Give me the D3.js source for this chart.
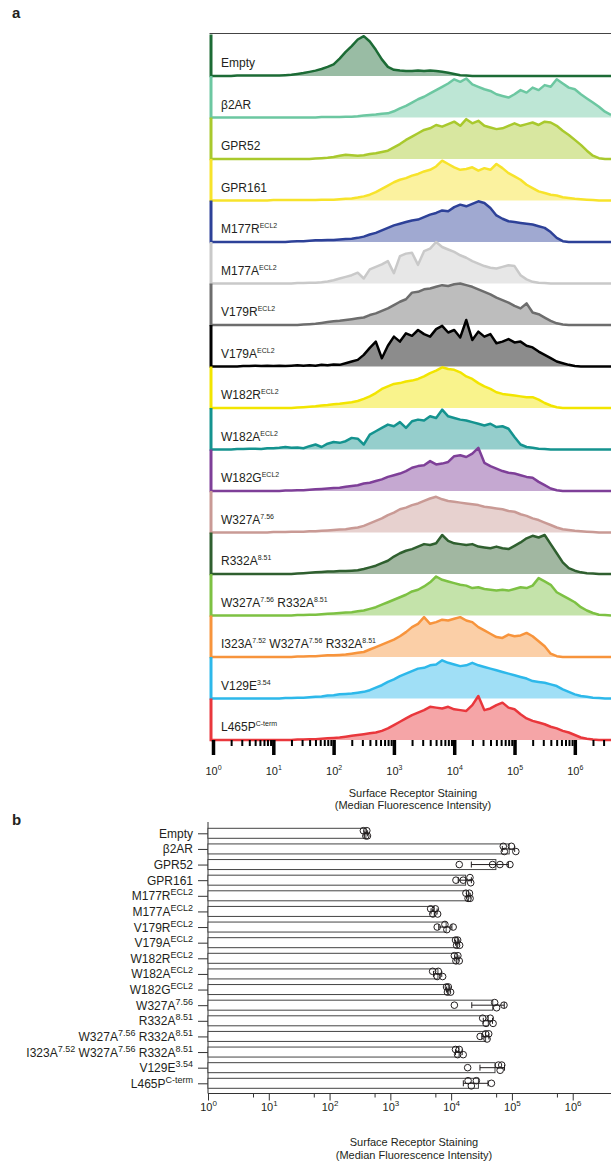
<!DOCTYPE html>
<html>
<head>
<meta charset="utf-8">
<script src="https://cdn.jsdelivr.net/npm/d3@7"></script>
<style>
  body { margin: 0; background: #fff; }
  svg { display: block; font-family: Arial, "Liberation Sans", Helvetica, sans-serif; }
  text { white-space: pre; }
</style>
</head>
<body>
<svg width="611" height="1165"></svg>
<script>
// ---- data ----
const constructs = ['Empty', 'β2AR', 'GPR52', 'GPR161', 'M177R', 'M177A', 'V179R', 'V179A', 'W182R',
    'W182A', 'W182G', 'W327A', 'R332A', 'W327A R332A', 'I323A W327A R332A', 'V129E', 'L465P'];

// label text split into [base, superscript] pieces
const labelParts = [
    [['Empty', '']],
    [['β2AR', '']],
    [['GPR52', '']],
    [['GPR161', '']],
    [['M177R', 'ECL2']],
    [['M177A', 'ECL2']],
    [['V179R', 'ECL2']],
    [['V179A', 'ECL2']],
    [['W182R', 'ECL2']],
    [['W182A', 'ECL2']],
    [['W182G', 'ECL2']],
    [['W327A', '7.56']],
    [['R332A', '8.51']],
    [['W327A', '7.56'], [' R332A', '8.51']],
    [['I323A', '7.52'], [' W327A', '7.56'], [' R332A', '8.51']],
    [['V129E', '3.54']],
    [['L465P', 'C-term']],
];

const lineColours = ['#1c6b35', '#6cc7a1', '#a9c92d', '#f7e32b', '#2d4198', '#c9c9c9', '#6d6d6d', '#000000',
    '#f2e500', '#14938f', '#7e3f98', '#c99a95', '#2f5f2f', '#7dc143', '#f7943c', '#2db8ea', '#e9373c'];

// histogram bins, log10 of intensity
const binLog10 = [
    0, 0.1, 0.2, 0.3, 0.4, 0.5, 0.6, 0.7, 0.8, 0.9,
    1, 1.1, 1.2, 1.3, 1.4, 1.5, 1.6, 1.7, 1.8, 1.9,
    2, 2.1, 2.2, 2.3, 2.4, 2.5, 2.6, 2.7, 2.8, 2.9,
    3, 3.1, 3.2, 3.3, 3.4, 3.5, 3.6, 3.7, 3.8, 3.9,
    4, 4.1, 4.2, 4.3, 4.4, 4.5, 4.6, 4.7, 4.8, 4.9,
    5, 5.1, 5.2, 5.3, 5.4, 5.5, 5.6, 5.7, 5.8, 5.9,
    6, 6.1, 6.2, 6.3, 6.4, 6.5, 6.6];

// normalised counts per bin (1 = full row height)
const histEmpty = [0, 0, 0, 0, 0.01, 0.01, 0.01, 0.01, 0.01, 0.01,
    0.01, 0.01, 0.02, 0.03, 0.05, 0.07, 0.1, 0.13, 0.17, 0.22,
    0.28, 0.42, 0.58, 0.72, 0.88, 0.96, 0.83, 0.63, 0.4, 0.22,
    0.15, 0.13, 0.12, 0.12, 0.13, 0.12, 0.13, 0.12, 0.1, 0.08,
    0.05, 0.02, 0.01, 0, 0, 0, 0, 0, 0, 0,
    0, 0, 0, 0, 0, 0, 0, 0, 0, 0,
    0, 0, 0, 0, 0, 0, 0];
const histB2AR = [0, 0, 0, 0, 0, 0, 0, 0, 0, 0,
    0, 0, 0, 0, 0, 0, 0, 0, 0.01, 0.01,
    0.01, 0.01, 0.02, 0.02, 0.03, 0.05, 0.06, 0.07, 0.09, 0.1,
    0.15, 0.22, 0.28, 0.36, 0.44, 0.5, 0.58, 0.66, 0.74, 0.82,
    0.92, 0.86, 0.94, 0.8, 0.74, 0.68, 0.64, 0.56, 0.52, 0.48,
    0.56, 0.66, 0.6, 0.72, 0.66, 0.78, 0.74, 0.92, 0.82, 0.72,
    0.68, 0.56, 0.46, 0.36, 0.26, 0.14, 0.06];
const histGPR52 = [0, 0, 0, 0, 0, 0, 0, 0, 0, 0,
    0, 0, 0, 0, 0, 0, 0, 0.01, 0.02, 0.03,
    0.05, 0.08, 0.1, 0.09, 0.08, 0.09, 0.12, 0.14, 0.17, 0.2,
    0.28, 0.36, 0.46, 0.54, 0.62, 0.7, 0.74, 0.82, 0.78, 0.84,
    0.9, 0.8, 0.96, 0.86, 0.92, 0.8, 0.76, 0.72, 0.74, 0.8,
    0.86, 0.8, 0.84, 0.88, 0.82, 0.9, 0.88, 0.8, 0.68, 0.58,
    0.46, 0.34, 0.2, 0.08, 0.02, 0, 0];
const histGPR161 = [0, 0, 0, 0, 0, 0, 0, 0, 0, 0,
    0.01, 0.01, 0.01, 0.01, 0.01, 0.01, 0.01, 0.01, 0.02, 0.02,
    0.02, 0.03, 0.04, 0.05, 0.07, 0.1, 0.14, 0.2, 0.28, 0.36,
    0.44, 0.5, 0.54, 0.6, 0.64, 0.7, 0.74, 0.82, 0.96, 0.88,
    0.8, 0.74, 0.76, 0.8, 0.72, 0.78, 0.74, 0.88, 0.78, 0.66,
    0.58, 0.5, 0.38, 0.3, 0.22, 0.18, 0.14, 0.12, 0.08, 0.06,
    0.04, 0.03, 0.02, 0.01, 0, 0, 0];
const histM177R = [0, 0, 0, 0, 0, 0, 0, 0, 0, 0,
    0, 0, 0, 0.01, 0.02, 0.02, 0.03, 0.04, 0.04, 0.05,
    0.05, 0.06, 0.07, 0.08, 0.1, 0.13, 0.18, 0.22, 0.28, 0.34,
    0.4, 0.44, 0.48, 0.52, 0.54, 0.6, 0.66, 0.7, 0.76, 0.74,
    0.84, 0.9, 0.86, 0.92, 0.98, 0.94, 0.82, 0.64, 0.56, 0.5,
    0.48, 0.46, 0.44, 0.42, 0.38, 0.34, 0.24, 0.1, 0.02, 0,
    0, 0, 0, 0, 0, 0, 0];
const histM177A = [0, 0, 0, 0, 0, 0, 0, 0, 0, 0,
    0, 0, 0, 0, 0.01, 0.01, 0.02, 0.02, 0.03, 0.05,
    0.08, 0.12, 0.16, 0.2, 0.26, 0.12, 0.34, 0.4, 0.46, 0.54,
    0.25, 0.66, 0.72, 0.74, 0.45, 0.78, 0.84, 1.0, 0.88, 0.82,
    0.76, 0.68, 0.62, 0.54, 0.48, 0.42, 0.38, 0.36, 0.4, 0.44,
    0.42, 0.2, 0.1, 0.04, 0.02, 0.01, 0, 0, 0, 0,
    0, 0, 0, 0, 0, 0, 0];
const histV179R = [0, 0, 0, 0, 0, 0, 0, 0, 0, 0,
    0, 0, 0, 0, 0, 0.01, 0.02, 0.03, 0.05, 0.07,
    0.09, 0.1, 0.12, 0.14, 0.16, 0.18, 0.24, 0.28, 0.34, 0.4,
    0.48, 0.56, 0.62, 0.78, 0.8, 0.86, 0.88, 0.92, 0.96, 0.94,
    0.98, 1.0, 0.96, 0.92, 0.86, 0.8, 0.74, 0.66, 0.6, 0.54,
    0.46, 0.4, 0.52, 0.3, 0.26, 0.18, 0.1, 0.04, 0.01, 0,
    0, 0, 0, 0, 0, 0, 0];
const histV179A = [0, 0, 0, 0, 0, 0.01, 0.01, 0.02, 0.01, 0.02,
    0.01, 0.02, 0.01, 0.02, 0.03, 0.02, 0.03, 0.02, 0.04, 0.03,
    0.05, 0.04, 0.08, 0.12, 0.16, 0.28, 0.45, 0.6, 0.2, 0.5,
    0.72, 0.6, 0.8, 0.74, 0.88, 0.78, 0.72, 0.9, 0.98, 0.82,
    0.88, 0.7, 1.12, 0.64, 0.84, 0.72, 0.78, 0.56, 0.6, 0.66,
    0.58, 0.6, 0.5, 0.46, 0.36, 0.28, 0.2, 0.12, 0.08, 0.04,
    0.01, 0, 0, 0, 0, 0, 0];
const histW182R = [0, 0, 0, 0, 0, 0, 0, 0, 0, 0,
    0, 0, 0, 0, 0.01, 0.02, 0.03, 0.04, 0.06, 0.07,
    0.09, 0.1, 0.12, 0.14, 0.17, 0.22, 0.28, 0.36, 0.46, 0.52,
    0.58, 0.6, 0.64, 0.66, 0.7, 0.76, 0.84, 0.9, 0.98, 0.94,
    0.92, 0.86, 0.76, 0.7, 0.6, 0.52, 0.46, 0.38, 0.34, 0.32,
    0.3, 0.28, 0.26, 0.26, 0.2, 0.12, 0.06, 0.02, 0, 0,
    0, 0, 0, 0, 0, 0, 0];
const histW182A = [0, 0, 0, 0, 0.01, 0.01, 0.02, 0.02, 0.01, 0.03,
    0.03, 0.04, 0.06, 0.04, 0.05, 0.03, 0.08, 0.12, 0.06, 0.14,
    0.18, 0.16, 0.2, 0.28, 0.26, 0.12, 0.36, 0.44, 0.52, 0.6,
    0.56, 0.66, 0.52, 0.68, 0.72, 0.7, 0.8, 0.76, 0.96, 0.8,
    0.76, 0.72, 0.7, 0.66, 0.62, 0.58, 0.62, 0.54, 0.56, 0.5,
    0.3, 0.12, 0.06, 0.04, 0.02, 0.01, 0, 0, 0, 0,
    0, 0, 0, 0, 0, 0, 0];
const histW182G = [0, 0, 0, 0, 0, 0, 0, 0, 0, 0,
    0, 0, 0.01, 0.01, 0.02, 0.02, 0.03, 0.04, 0.05, 0.06,
    0.07, 0.08, 0.1, 0.12, 0.14, 0.18, 0.2, 0.24, 0.28, 0.34,
    0.38, 0.42, 0.48, 0.56, 0.6, 0.62, 0.72, 0.64, 0.66, 0.7,
    0.84, 0.86, 0.82, 0.9, 1.04, 0.68, 0.6, 0.54, 0.48, 0.44,
    0.42, 0.38, 0.34, 0.32, 0.22, 0.14, 0.06, 0.02, 0, 0,
    0, 0, 0, 0, 0, 0, 0];
const histW327A = [0, 0, 0, 0, 0, 0, 0, 0, 0, 0,
    0.01, 0.01, 0.01, 0.02, 0.02, 0.02, 0.03, 0.03, 0.04, 0.05,
    0.06, 0.07, 0.08, 0.1, 0.12, 0.16, 0.22, 0.28, 0.34, 0.42,
    0.48, 0.56, 0.6, 0.66, 0.7, 0.76, 0.82, 0.86, 0.8, 0.76,
    0.74, 0.72, 0.7, 0.68, 0.66, 0.62, 0.6, 0.58, 0.56, 0.52,
    0.5, 0.44, 0.4, 0.34, 0.3, 0.24, 0.18, 0.12, 0.08, 0.06,
    0.04, 0.03, 0.02, 0.01, 0, 0, 0];
const histR332A = [0, 0, 0, 0, 0, 0, 0, 0, 0, 0,
    0, 0, 0, 0, 0.01, 0.02, 0.03, 0.04, 0.05, 0.06,
    0.06, 0.07, 0.07, 0.08, 0.09, 0.12, 0.16, 0.2, 0.26, 0.32,
    0.42, 0.5, 0.56, 0.6, 0.66, 0.72, 0.7, 0.74, 0.94, 0.8,
    0.74, 0.72, 0.7, 0.72, 0.66, 0.64, 0.62, 0.66, 0.62, 0.6,
    0.68, 0.76, 0.86, 0.92, 0.88, 0.94, 0.72, 0.5, 0.28, 0.14,
    0.08, 0.04, 0.02, 0.01, 0, 0, 0];
const histW327AR332A = [0, 0, 0, 0, 0, 0, 0, 0, 0, 0,
    0, 0, 0, 0, 0.01, 0.01, 0.02, 0.02, 0.03, 0.04,
    0.05, 0.06, 0.07, 0.08, 0.1, 0.12, 0.16, 0.2, 0.26, 0.32,
    0.38, 0.44, 0.5, 0.58, 0.62, 0.7, 0.8, 0.94, 0.86, 0.82,
    0.78, 0.74, 0.72, 0.66, 0.68, 0.64, 0.62, 0.6, 0.62, 0.6,
    0.64, 0.68, 0.66, 0.72, 0.9, 0.82, 0.74, 0.56, 0.48, 0.4,
    0.32, 0.2, 0.12, 0.06, 0.02, 0.01, 0];
const histI323A = [0, 0, 0, 0, 0, 0, 0, 0, 0, 0,
    0, 0, 0, 0, 0.01, 0.01, 0.02, 0.02, 0.03, 0.04,
    0.04, 0.05, 0.06, 0.08, 0.1, 0.12, 0.18, 0.24, 0.3, 0.36,
    0.42, 0.5, 0.6, 0.72, 0.8, 0.96, 0.8, 0.84, 0.9, 0.88,
    0.92, 0.96, 0.88, 0.84, 0.72, 0.64, 0.56, 0.48, 0.46, 0.54,
    0.5, 0.52, 0.58, 0.5, 0.38, 0.26, 0.08, 0.02, 0, 0,
    0, 0, 0, 0, 0, 0, 0];
const histV129E = [0, 0, 0, 0, 0, 0, 0, 0, 0, 0,
    0, 0, 0.01, 0.01, 0.02, 0.02, 0.03, 0.04, 0.05, 0.07,
    0.08, 0.1, 0.11, 0.12, 0.14, 0.16, 0.2, 0.26, 0.32, 0.4,
    0.46, 0.54, 0.6, 0.66, 0.72, 0.74, 0.8, 0.82, 0.92, 0.86,
    0.82, 0.78, 0.8, 0.86, 0.8, 0.76, 0.72, 0.68, 0.64, 0.6,
    0.56, 0.52, 0.48, 0.42, 0.4, 0.38, 0.34, 0.3, 0.22, 0.16,
    0.1, 0.06, 0.04, 0.02, 0.01, 0, 0];
const histL465P = [0, 0, 0, 0, 0, 0, 0, 0, 0, 0,
    0, 0, 0, 0, 0.01, 0.01, 0.02, 0.02, 0.03, 0.04,
    0.05, 0.06, 0.08, 0.1, 0.12, 0.14, 0.16, 0.18, 0.22, 0.28,
    0.36, 0.44, 0.52, 0.6, 0.66, 0.72, 0.8, 0.78, 0.76, 0.8,
    0.74, 0.72, 0.7, 0.84, 1.06, 0.72, 0.76, 0.84, 0.9, 0.78,
    0.74, 0.62, 0.52, 0.46, 0.42, 0.38, 0.32, 0.28, 0.22, 0.18,
    0.12, 0.06, 0.03, 0.01, 0, 0, 0];

const histograms = [histEmpty, histB2AR, histGPR52, histGPR161, histM177R, histM177A, histV179R, histV179A,
    histW182R, histW182A, histW182G, histW327A, histR332A, histW327AR332A, histI323A, histV129E, histL465P];

// median fluorescence intensity, four replicates per construct
const replicates = [
    [360, 395, 410, 420],
    [72000, 75000, 98000, 116000],
    [13600, 48000, 63500, 92700],
    [12000, 15800, 20400, 21000],
    [17500, 19000, 20000, 20500],
    [4600, 5000, 5500, 6000],
    [5900, 7900, 8500, 10800],
    [11800, 12300, 12800, 13800],
    [11300, 12000, 12900, 13600],
    [4960, 5900, 6150, 7250],
    [8400, 8700, 9000, 9800],
    [11300, 52000, 56000, 74000],
    [33000, 37500, 44000, 49000],
    [30000, 37000, 39000, 41500],
    [11800, 12800, 13600, 15800],
    [18700, 60000, 64000, 68000],
    [19000, 21500, 26000, 46000],
];

const decadeTicks = [1, 10, 100, 1e3, 1e4, 1e5, 1e6];
const tickExponents = ['0', '1', '2', '3', '4', '5', '6'];
const minorMultipliers = [2, 3, 4, 5, 6, 7, 8, 9];
const minorTicksB = [5.5, 55, 550, 5500, 55000, 550000];
const axisTitle = ['Surface Receptor Staining', '(Median Fluorescence Intensity)'];

// ---- drawing ----
const svg = d3.select('svg');
const INK = '#231f20';
const ROW_H = 41.5;

// writes base text + raised superscripts into a <text>
const writeLabel = (text, parts, supSize, raise) => {
    let raised = false;
    parts.forEach(([base, sup]) => {
        text.append('tspan').attr('dy', raised ? raise : null).text(base);
        raised = false;
        if (sup) {
            text.append('tspan').attr('font-size', supSize).attr('dy', -raise).text(sup);
            raised = true;
        }
    });
};

svg.append('text')
    .attr('x', 12).attr('y', 18)
    .attr('font-size', 15).attr('font-weight', 'bold').attr('fill', INK)
    .text('a');
svg.append('text')
    .attr('x', 12).attr('y', 825)
    .attr('font-size', 15).attr('font-weight', 'bold').attr('fill', INK)
    .text('b');

// panel a: stacked histograms
const X_A = d3.scaleLog().domain([1, 10 ** 6.6]).range([213, 611]);
const Y_A = d3.scalePoint().domain(constructs).range([76, 740]);
const H_A = d3.scaleLinear().domain([0, 1]).range([0, -ROW_H]);

svg.append('line')
    .attr('x1', 209.5).attr('x2', 611).attr('y1', 33.5).attr('y2', 33.5)
    .attr('stroke', '#444').attr('stroke-width', 1);

const rowsA = svg.append('g')
    .selectAll('g')
    .data(constructs)
    .join('g')
    .attr('transform', d => `translate(0,${Y_A(d)})`);

rowsA.each(function (name, i) {
    const g = d3.select(this);
    const pts = histograms[i].map((v, k) => [X_A(10 ** binLog10[k]), H_A(v)]);
    g.append('path')
        .attr('d', d3.area().x(p => p[0]).y0(0).y1(p => p[1])(pts))
        .attr('fill', lineColours[i])
        .attr('fill-opacity', 0.45);
    g.append('path')
        .attr('d', d3.line()(pts))
        .attr('fill', 'none')
        .attr('stroke', lineColours[i])
        .attr('stroke-width', 2.5)
        .attr('stroke-linejoin', 'round');
    g.append('line')
        .attr('x1', 211).attr('x2', 213).attr('y1', 0).attr('y2', 0)
        .attr('stroke', lineColours[i]).attr('stroke-width', 2.5);
    g.append('line')
        .attr('x1', 211).attr('x2', 211).attr('y1', -ROW_H).attr('y2', 1.25)
        .attr('stroke', lineColours[i]).attr('stroke-width', 3);
});

rowsA.append('text')
    .attr('x', 221).attr('y', -9)
    .attr('font-size', 12).attr('fill', INK)
    .each(function (name, i) { writeLabel(d3.select(this), labelParts[i], 7, 5); });

const axisA = svg.append('g').attr('transform', 'translate(0,740)');
const minorTicksA = decadeTicks.flatMap(d => minorMultipliers.map(m => d * m)).filter(v => v <= 10 ** 6.6);

axisA.append('g')
    .call(d3.axisBottom(X_A).tickValues(minorTicksA).tickSize(6).tickFormat(''))
    .call(g => g.select('.domain').remove())
    .call(g => g.selectAll('.tick line').attr('stroke', '#000').attr('stroke-width', 2));

axisA.append('g')
    .call(d3.axisBottom(X_A).tickValues(decadeTicks).tickSize(15).tickFormat(''))
    .call(g => g.select('.domain').remove())
    .call(g => g.selectAll('.tick line').attr('stroke', '#000').attr('stroke-width', 3.5))
    .call(g => g.selectAll('.tick text')
        .attr('y', 35).attr('dy', null)
        .attr('font-size', 11).attr('font-family', null).attr('fill', INK)
        .each(function (d, i) { writeLabel(d3.select(this), [['10', tickExponents[i]]], 7, 5); }));

svg.append('g')
    .selectAll('text')
    .data(axisTitle)
    .join('text')
    .attr('x', 413)
    .attr('y', (d, i) => 797 + i * 12)
    .attr('text-anchor', 'middle')
    .attr('font-size', 11)
    .attr('fill', INK)
    .text(d => d);

// panel b: bar chart of medians
const X_B = d3.scaleLog().domain([1, 10 ** 6.63]).range([208, 611]);
const Y_B = d3.scalePoint().domain(constructs).range([833.3, 1083.3]);
const BAR_H = 10;

svg.append('line')
    .attr('x1', 208).attr('x2', 208).attr('y1', 822).attr('y2', 1093.5)
    .attr('stroke', '#333').attr('stroke-width', 1);

svg.append('g')
    .attr('transform', 'translate(208,0)')
    .call(d3.axisLeft(Y_B).tickSize(10).tickSizeOuter(0).tickFormat(''))
    .call(g => g.select('.domain').remove())
    .call(g => g.selectAll('.tick line').attr('stroke', '#333'))
    .call(g => g.selectAll('.tick text')
        .attr('x', -15).attr('dy', null).attr('y', 4)
        .attr('text-anchor', 'end')
        .attr('font-size', 12).attr('font-family', null).attr('fill', INK)
        .each(function (d, i) { writeLabel(d3.select(this), labelParts[i], 9, 5); }));

const stats = constructs.map((c, i) => ({
    name: c,
    mean: d3.mean(replicates[i]),
    sd: d3.deviation(replicates[i]),
    values: replicates[i],
}));

const rowsB = svg.append('g')
    .selectAll('g')
    .data(stats)
    .join('g')
    .attr('transform', d => `translate(0,${Y_B(d.name)})`);

rowsB.append('rect')
    .attr('x', X_B(1))
    .attr('y', -BAR_H / 2)
    .attr('width', d => X_B(d.mean) - X_B(1))
    .attr('height', BAR_H)
    .attr('fill', '#fff')
    .attr('stroke', '#444')
    .attr('stroke-width', 1);

rowsB.each(function (d) {
    const g = d3.select(this);
    const lo = X_B(Math.max(1, d.mean - d.sd));
    const hi = X_B(d.mean + d.sd);
    g.append('line').attr('x1', lo).attr('x2', hi).attr('y1', 0).attr('y2', 0)
        .attr('stroke', INK).attr('stroke-width', 1);
    [lo, hi].forEach(x => g.append('line')
        .attr('x1', x).attr('x2', x).attr('y1', -3).attr('y2', 3)
        .attr('stroke', INK).attr('stroke-width', 1));

    // stack overlapping replicate circles above/below the bar centre
    const pts = d.values.map(v => ({ x: X_B(v), dy: 0 })).sort((a, b) => a.x - b.x);
    const clusters = [];
    pts.forEach(p => {
        const last = clusters[clusters.length - 1];
        if (last && p.x - last[last.length - 1].x < 5.5) last.push(p);
        else clusters.push([p]);
    });
    clusters.forEach(cl => {
        if (cl.length > 1) cl.forEach((p, k) => { p.dy = k % 2 ? 2.6 : -2.6; });
    });
    g.selectAll('circle')
        .data(pts)
        .join('circle')
        .attr('cx', p => p.x)
        .attr('cy', p => p.dy)
        .attr('r', 3.3)
        .attr('fill', 'none')
        .attr('stroke', INK)
        .attr('stroke-width', 1);
});

const axisB = svg.append('g').attr('transform', 'translate(0,1093.5)');
axisB.append('line')
    .attr('x1', 208).attr('x2', 611).attr('y1', 0).attr('y2', 0)
    .attr('stroke', '#333').attr('stroke-width', 1);
axisB.append('g')
    .call(d3.axisBottom(X_B).tickValues(minorTicksB).tickSize(4).tickFormat(''))
    .call(g => g.select('.domain').remove())
    .call(g => g.selectAll('.tick line').attr('stroke', '#333'));
axisB.append('g')
    .call(d3.axisBottom(X_B).tickValues(decadeTicks).tickSize(7).tickFormat(''))
    .call(g => g.select('.domain').remove())
    .call(g => g.selectAll('.tick line').attr('stroke', '#333'))
    .call(g => g.selectAll('.tick text')
        .attr('y', 17).attr('dy', null)
        .attr('font-size', 11).attr('font-family', null).attr('fill', INK)
        .each(function (d, i) { writeLabel(d3.select(this), [['10', tickExponents[i]]], 8, 5); }));

svg.append('g')
    .selectAll('text')
    .data(axisTitle)
    .join('text')
    .attr('x', 414)
    .attr('y', (d, i) => 1146 + i * 13)
    .attr('text-anchor', 'middle')
    .attr('font-size', 11)
    .attr('fill', INK)
    .text(d => d);
</script>
</body>
</html>
